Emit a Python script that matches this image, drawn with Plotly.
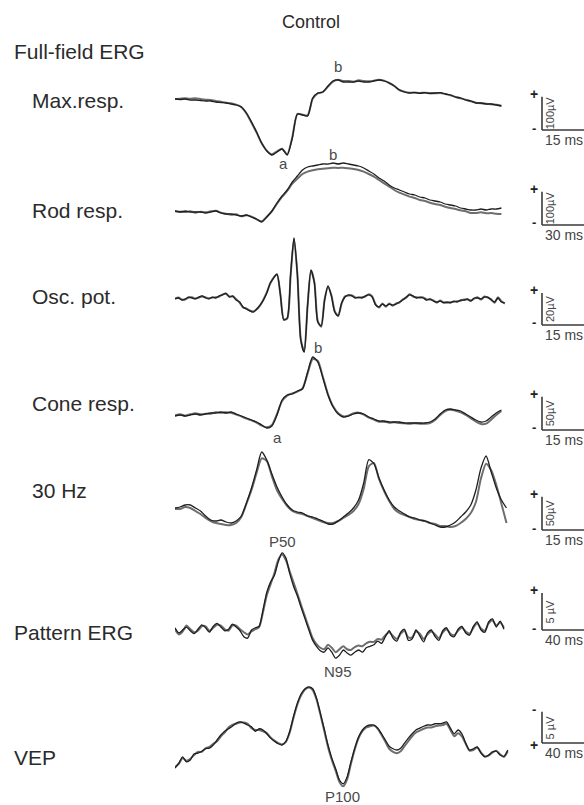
import plotly.graph_objects as go

W, H = 584, 805

# ---------------- data (amplitudes in µV) ----------------
PANEL_NAMES = ["Max.resp.", "Rod resp.", "Osc. pot.", "Cone resp.", "30 Hz", "Pattern ERG", "VEP"]
SCALE_UV_LABELS = ["100µV", "100µV", "20µV", "50µV", "50µV", "5 µV", "5 µV"]
SCALE_MS_LABELS = ["15 ms", "30 ms", "15 ms", "15 ms", "15 ms", "40 ms", "40 ms"]
BAR_UV = [100, 100, 20, 50, 50, 5, 5]
BAR_MS = [15, 30, 15, 15, 15, 40, 40]
STEP_MS = [1.5, 3, 1, 1.5, 1.5, 3, 3]

MAX_A = [3, 1.5, 3, 0, 0, -1.5, -3, -3, -6, -7.5, -9, -12, -15, -21, -39, -66, -96, -129, -153, -165,
         -156, -147, -165, -114, -42, -45, -48, 6, 21, 24, 42, 57, 60, 54, 54, 54, 57, 54, 54, 57,
         60, 57, 51, 42, 30, 24, 21, 23, 20, 22, 19, 21, 22, 18, 15, 9, 6, 0, -3, -9,
         -9, -12, -12, -15, -18]
MAX_B = [3, 4, 5, 4, 5, 3, 1, 0, -3, -5, -8, -10, -14, -21, -40, -68, -98, -130, -152, -163,
         -154, -146, -163, -112, -42, -44, -46, 4, 20, 24, 40, 56, 61, 57, 57, 55, 59, 57, 56, 58,
         61, 58, 51, 42, 30, 25, 22, 22, 21, 22, 21, 20, 21, 18, 14, 9, 5, 1, -4, -8,
         -10, -11, -13, -14, -17]

ROD_A = [3, 0, 3, 0, 0, 0, -3, 0, 3, -3, -6, -6, -9, -12, -9, -15, -21, -30, -15, 3,
         27, 48, 66, 90, 108, 126, 135, 138, 141, 144, 144, 147, 144, 147, 144, 141, 138, 132, 123, 114,
         102, 93, 81, 72, 66, 60, 54, 51, 45, 42, 36, 33, 30, 24, 21, 18, 12, 9, 6, 6,
         9, 6, 9, 9, 12]
ROD_B = [2, 1, 0, 2, -2, 1, -1, 2, 4, -2, -5, -8, -7, -13, -10, -14, -22, -28, -14, 2,
         25, 46, 63, 85, 100, 114, 121, 125, 128, 130, 131, 133, 132, 133, 131, 129, 126, 121, 114, 106,
         96, 86, 76, 66, 58, 52, 46, 42, 36, 33, 28, 24, 21, 16, 12, 9, 5, 2, -3, -3,
         -1, -4, -3, -5, -6]

OP_A = [-0.6, 0, -1.3, -0.6, 0.6, 0, -0.6, 0.6, 1.3, 0,
        -0.6, 0.6, 0, 1.3, 1.9, 3.1, 0.6, 1.3, -1.3, -2.5,
        -5.6, -6.9, -8.1, -8.8, -6.9, -4.4, -1.3, 3.1, 9.4, 12.5,
        15.0, 1.9, -13.8, -12.5, 14.4, 37.5, 14.4, -26.3, -33.8, -4.4,
        17.5, 9.4, -15.0, -17.5, -1.3, 7.5, 1.3, -8.8, -11.3, -3.1,
        0.6, 1.9, 1.3, 0, 0.6, 0, 1.3, 1.9, 0.6, -4.4,
        -5.6, -3.8, -5.0, -3.8, -4.4, -3.8, -2.5, -1.3, 0.6, 1.9,
        1.3, 0, 0.6, 0, -1.3, -0.6, -1.9, -2.5, -1.9, -3.1,
        -2.5, -3.1, -1.9, -2.5, -1.3, -1.3, -0.6, -1.9, 0, 0,
        -0.6, 0.6, 0.6, -1.3, -2.5, 0, -2.5, -3.1]
OP_B = [-0.3, 0.3, -0.9, -1.0, 0.3, 0.4, -0.3, 0.2, 1.0, 0.4,
        -0.2, 0.3, 0.4, 0.9, 2.3, 2.5, 1.0, 0.9, -0.8, -2.8,
        -5.9, -6.5, -7.8, -8.5, -7.2, -4.8, -1.0, 3.5, 9.0, 12.8,
        14.6, 2.3, -13.3, -12.9, 14.0, 37.0, 14.8, -25.8, -33.4, -4.8,
        17.0, 9.8, -14.6, -17.9, -1.0, 7.1, 1.7, -8.4, -11.0, -3.5,
        1.0, 1.5, 1.7, 0.4, 0.2, 0.4, 0.9, 2.3, 1.0, -3.9,
        -6.0, -3.4, -5.4, -3.4, -4.8, -3.4, -2.9, -0.9, 0.2, 2.3,
        0.9, 0.4, 0.2, 0.4, -0.9, -1.0, -1.5, -2.9, -1.5, -2.7,
        -2.9, -2.7, -2.3, -2.1, -1.7, -0.9, -1.0, -1.5, -0.4, 0.4,
        -1.0, 1.0, 0.2, -0.9, -2.9, 0.4, -2.1, -3.5]

CONE_A = [-1.5, 0, -1.5, 0, 1.5, 0, 1.5, 3, 3, 4.5,
          3, 4.5, 1.5, -1.5, -4.5, -7.5, -10.5, -15, -19.5, -16.5,
          0, 22.5, 30, 31.5, 36, 39, 64.5, 87, 79.5, 55.5,
          30, 12, 1.5, -3, -1.5, 1.5, 3, 1.5, -3, -6,
          -9, -9, -10.5, -10.5, -10.5, -12, -12, -12, -12, -12,
          -10.5, -6, 1.5, 7.5, 9, 7.5, 6, 1.5, -3, -7.5,
          -10.5, -9, -3, 3, 7.5]
CONE_B = [-0.5, 1, -1, 1, 2.5, 1, 2, 2, 4, 3.5,
          4, 3.5, 0.5, -2, -5.5, -8, -11.5, -16, -18.5, -15,
          1.5, 21, 29, 32.5, 35, 40, 62, 84, 81, 57,
          31, 13, 2.5, -2, -1, 2.5, 3.5, 0.5, -4, -7,
          -10, -10, -11.5, -11, -12, -12.5, -13, -12.5, -13, -13,
          -12, -7.5, 0, 6, 8, 6.5, 4, 0, -5, -10,
          -13.5, -13, -7, 0, 6]

FLICKER_A = [-4.5, -3, 0, 0, -4.5, -9, -16.5, -22.5, -24, -22.5,
             -25.5, -27, -24, -16.5, 3, 25.5, 52.5, 79.5, 67.5, 46.5,
             27, 12, 0, -7.5, -10.5, -12, -16.5, -18, -21, -24,
             -28.5, -28.5, -24, -18, -12, -4.5, 7.5, 33, 68, 62,
             40.5, 22.5, 7.5, -3, -9, -13.5, -18, -19.5, -22.5, -24,
             -27, -30, -33, -33, -30, -25.5, -18, -10.5, 0, 22.5,
             55.5, 73.5, 49.5, 25.5, 7.5, -4.5]
FLICKER_B = [-6, -6, -3, -4.5, -9, -13.5, -19.5, -24, -27, -28.5,
             -30, -30, -27, -18, 1.5, 22.5, 48, 70, 66, 43,
             22, 9, -1.5, -9, -12, -13.5, -16.5, -19.5, -22.5, -25.5,
             -27, -27, -24, -19.5, -15, -9, 1.5, 24, 58, 63,
             39, 21, 6, -6, -12, -15, -18, -21, -22.5, -24,
             -27, -28.5, -31.5, -31.5, -33, -31.5, -27, -21, -12, 4.5,
             40, 62, 52, 30, 2, -27]

PERG_A = [0.3, -0.4, 0, 0.4, -0.1, -0.5, 0.1, 0.7, 0.3, -0.3,
          0.5, 0.9, 0.4, -0.1, 0.1, 0.8, 0.4, -0.1, -0.9, -1.1,
          0, 0.3, 0.5, 2.7, 5.1, 6.5, 7.4, 9.2, 10.4, 9.7,
          7.6, 5.9, 4.6, 3.0, 1.5, 0, -1.4, -2.2, -2.8, -3.0,
          -2.4, -3.0, -3.8, -3.4, -2.7, -3.1, -3.4, -3.0, -2.7, -3.0,
          -2.4, -2.2, -2.0, -1.5, -1.8, -0.9, -0.1, -1.1, -1.5, -0.3,
          0.1, -1.4, -1.2, 0, -0.8, -1.6, -0.4, 0, -0.9, -1.4,
          -0.1, 0.3, -0.7, -0.9, 0.1, 0.5, -0.4, -0.7, 0.5, 1.1,
          0, -0.3, 1.1, 1.5, 0.4, 1.2, 0.1]
PERG_B = [0.1, -0.6, -0.2, 0.6, 0.1, -0.3, -0.1, 0.5, 0.5, -0.1,
          0.3, 0.7, 0.6, 0.1, -0.1, 0.6, 0.6, 0.1, -0.3, -0.6,
          -0.2, 0.1, 0.4, 2.4, 4.7, 6.2, 7.7, 9.5, 10.2, 9.4,
          7.9, 6.4, 4.9, 3.3, 1.8, 0.3, -1.1, -1.9, -2.4, -2.6,
          -2.0, -2.4, -3.0, -2.6, -2.2, -2.6, -2.7, -2.3, -2.1, -2.2,
          -1.8, -1.6, -1.6, -1.2, -1.3, -0.7, -0.3, -0.8, -1.2, -0.5,
          -0.1, -1.0, -1.0, -0.2, -0.5, -1.2, -0.6, -0.2, -0.6, -1.1,
          -0.3, 0.1, -0.5, -0.7, -0.1, 0.3, -0.2, -0.5, 0.3, 0.9,
          0.2, -0.1, 0.9, 1.3, 0.6, 1.0, 0.3]

VEP_A = [3.7, 2.9, 1.9, 2.7, 2.4, 1.4, 1.3, 1.0, 0.6, 0.5,
         0, -0.8, -1.6, -2.2, -2.6, -3.0, -3.5, -3.7, -3.5, -3.2,
         -2.9, -2.2, -2.6, -2.4, -1.8, -1.1, -0.6, -0.2, 0, -0.6,
         -2.2, -4.6, -6.7, -8.2, -9.0, -9.3, -9.0, -7.5, -5.1, -2.6,
         0, 2.1, 3.8, 5.6, 6.2, 5.1, 2.7, 0.5, -1.3, -2.4,
         -3.0, -3.2, -3.2, -2.7, -1.8, -0.8, 0.2, 0.6, 0.8, 0.5,
         -0.3, -1.1, -1.8, -2.4, -2.7, -3.0, -3.2, -3.2, -3.4, -3.4,
         -3.5, -3.7, -2.7, -1.8, -2.4, -1.8, -0.3, 0.8, 0.6, 0.3,
         1.3, 1.9, 1.6, 1.1, 1.0, 1.6, 1.8, 0.8]
VEP_B = [3.5, 3.0, 2.1, 2.5, 2.2, 1.6, 1.1, 1.1, 0.5, 0.3,
         -0.2, -0.6, -1.4, -2.0, -2.8, -3.2, -3.4, -3.6, -3.6, -3.4,
         -2.7, -2.4, -2.4, -2.2, -1.9, -1.2, -0.7, -0.3, -0.1, -0.5,
         -2.0, -4.4, -6.5, -8.0, -8.9, -9.2, -8.8, -7.3, -4.9, -2.3,
         0.3, 2.4, 4.1, 5.9, 6.6, 5.5, 3.0, 0.7, -1.1, -2.2,
         -2.8, -3.0, -3.1, -2.6, -1.6, -0.5, 0.6, 1.1, 1.3, 1.0,
         0.2, -0.6, -1.4, -2.0, -2.3, -2.6, -2.8, -2.8, -3.0, -3.1,
         -3.2, -3.4, -2.4, -1.4, -1.9, -1.4, -0.2, 0.9, 0.8, 0.4,
         1.2, 1.8, 1.7, 1.2, 0.9, 1.5, 1.9, 1.0]

SERIES = [(MAX_A, MAX_B), (ROD_A, ROD_B), (OP_A, OP_B), (CONE_A, CONE_B),
          (FLICKER_A, FLICKER_B), (PERG_A, PERG_B), (VEP_A, VEP_B)]

# wave labels: (panel index, text, time ms, amplitude µV position)
WAVE_LABELS = [(0, "b", 48, 100), (0, "a", 32, -190), (1, "b", 93, 174),
               (3, "b", 42, 102), (3, "a", 30, -33), (5, "P50", 84, 11.9),
               (5, "N95", 128, -5.6), (6, "P100", 131, 8.3)]

# ---------------- layout (pixel geometry) ----------------
FONT = "Liberation Sans, Arial, Helvetica, sans-serif"
X0_PX, X1_PX = 175, 512          # trace area
BAR_X_PX = 542                   # vertical scale bar
BAR_LEN_PX = 51                  # horizontal scale-bar length
# per panel: label x, label y, band top, band bottom, baseline px, µV per px, inverted, bar bottom px
GEOM = [
    (30, 100, 55, 175, 100, 3.0, False, 130),
    (30, 210, 150, 240, 212, 3.0, False, 225),
    (30, 297, 225, 370, 298, 0.625, False, 325),
    (30, 403, 340, 445, 415, 1.5, False, 430),
    (30, 490, 440, 545, 505, 1.5, False, 530),
    (12, 632, 525, 680, 630, 0.135, False, 630),
    (12, 757, 675, 802, 745, 0.16, True, 743),
]


def px(x):
    return x / W


def py(y):
    return 1 - y / H


fig = go.Figure()
layout = dict(width=W, height=H, margin=dict(l=0, r=0, t=0, b=0),
              paper_bgcolor="white", plot_bgcolor="rgba(0,0,0,0)",
              showlegend=False, font=dict(family=FONT, color="#333333"))
shapes, annotations = [], []

for i, ((a_vals, b_vals), geom) in enumerate(zip(SERIES, GEOM)):
    lx, ly, top, bot, base, s, inv, bar_bot = geom
    n = i + 1
    xa = "x" if n == 1 else f"x{n}"
    ya = "y" if n == 1 else f"y{n}"
    px_per_ms = BAR_LEN_PX / BAR_MS[i]
    t_b = [k * STEP_MS[i] for k in range(len(b_vals))]
    t_a = [k * STEP_MS[i] for k in range(len(a_vals))]
    fig.add_trace(go.Scatter(x=t_b, y=b_vals, mode="lines", xaxis=xa, yaxis=ya,
                             line=dict(color="#6e6e6e", width=2.0, shape="spline", smoothing=0.7),
                             hoverinfo="skip"))
    fig.add_trace(go.Scatter(x=t_a, y=a_vals, mode="lines", xaxis=xa, yaxis=ya,
                             line=dict(color="#1e1e1e", width=1.3, shape="spline", smoothing=0.7),
                             hoverinfo="skip"))
    if inv:
        yr = [(bot - base) * s, (top - base) * s]
    else:
        yr = [(base - bot) * s, (base - top) * s]
    layout["xaxis" if n == 1 else f"xaxis{n}"] = dict(
        domain=[px(X0_PX), px(X1_PX)], range=[0, (X1_PX - X0_PX) / px_per_ms],
        visible=False, anchor=ya, fixedrange=True)
    layout["yaxis" if n == 1 else f"yaxis{n}"] = dict(
        domain=[py(bot), py(top)], range=yr, visible=False, anchor=xa, fixedrange=True)

    # panel label
    annotations.append(dict(x=px(lx), y=py(ly), xref="paper", yref="paper", text=PANEL_NAMES[i],
                            showarrow=False, xanchor="left", yanchor="middle",
                            font=dict(size=21, color="#2b2b2b")))
    # scale bar
    bar_h = BAR_UV[i] / s
    bar_top = bar_bot - bar_h
    shapes.append(dict(type="line", xref="paper", yref="paper", x0=px(BAR_X_PX), x1=px(BAR_X_PX),
                       y0=py(bar_bot), y1=py(bar_top), line=dict(color="#3a3a3a", width=1.6)))
    shapes.append(dict(type="line", xref="paper", yref="paper", x0=px(BAR_X_PX),
                       x1=px(BAR_X_PX + BAR_MS[i] * px_per_ms),
                       y0=py(bar_bot), y1=py(bar_bot), line=dict(color="#3a3a3a", width=1.6)))
    annotations.append(dict(x=px(BAR_X_PX + 8), y=py((bar_top + bar_bot) / 2), xref="paper",
                            yref="paper", text=SCALE_UV_LABELS[i], textangle=-90, showarrow=False,
                            xanchor="center", yanchor="middle", font=dict(size=11, color="#444")))
    annotations.append(dict(x=px(BAR_X_PX + 1), y=py(bar_bot + 10), xref="paper", yref="paper",
                            text=SCALE_MS_LABELS[i], showarrow=False, xanchor="left",
                            yanchor="middle", font=dict(size=14, color="#444")))
    plus_y, minus_y = (bar_bot + 2, bar_top - 2) if inv else (bar_top - 3, bar_bot - 2)
    annotations.append(dict(x=px(534), y=py(plus_y), xref="paper", yref="paper", text="<b>+</b>",
                            showarrow=False, xanchor="center", yanchor="middle",
                            font=dict(size=14, color="#222")))
    annotations.append(dict(x=px(534), y=py(minus_y), xref="paper", yref="paper", text="<b>-</b>",
                            showarrow=False, xanchor="center", yanchor="middle",
                            font=dict(size=13, color="#222")))

# wave-component labels placed in each panel's data coordinates
for (pi, txt, tms, amp) in WAVE_LABELS:
    n = pi + 1
    annotations.append(dict(x=tms, y=amp, xref="x" if n == 1 else f"x{n}",
                            yref="y" if n == 1 else f"y{n}", text=txt, showarrow=False,
                            xanchor="center", yanchor="middle",
                            font=dict(size=15, color="#4a4a4a")))

annotations.append(dict(x=px(311), y=py(22), xref="paper", yref="paper", text="Control",
                        showarrow=False, xanchor="center", yanchor="middle",
                        font=dict(size=18, color="#2b2b2b")))
annotations.append(dict(x=px(12), y=py(52), xref="paper", yref="paper", text="Full-field ERG",
                        showarrow=False, xanchor="left", yanchor="middle",
                        font=dict(size=21, color="#2b2b2b")))

layout["shapes"] = shapes
layout["annotations"] = annotations
fig.update_layout(**layout)
fig.write_html("out.html")
